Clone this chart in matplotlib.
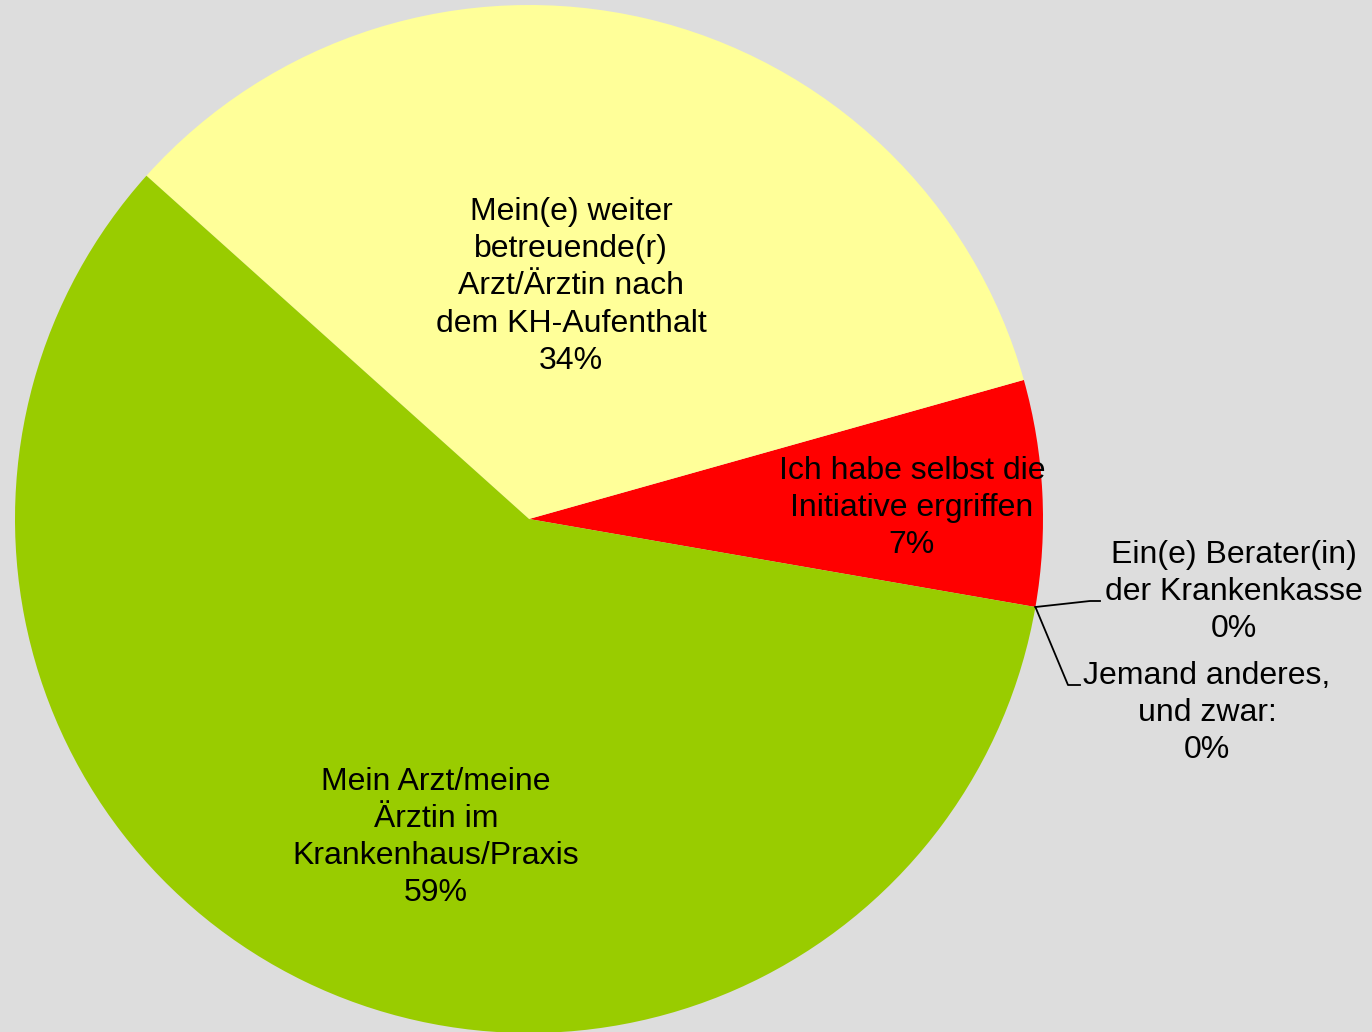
import matplotlib.pyplot as plt
import numpy as np

plt.rcParams['font.family'] = ['Liberation Sans', 'DejaVu Sans']

labels = ['Ich habe selbst die\nInitiative ergriffen',
          'Mein(e) weiter\nbetreuende(r)\nArzt/Ärztin nach\ndem KH-Aufenthalt',
          'Mein Arzt/meine\nÄrztin im\nKrankenhaus/Praxis',
          'Ein(e) Berater(in)\nder Krankenkasse',
          'Jemand anderes,\nund zwar:']
values = [7.1, 34.0, 58.9, 0.0, 0.0]
pct_text = ['7%', '34%', '59%', '0%', '0%']
colors = ['#FF0000', '#FFFF99', '#99CC00', '#3366FF', '#FF9900']

W, H = 1372, 1032
fig = plt.figure(figsize=(W / 100, H / 100), dpi=100)
fig.patch.set_facecolor('#DDDDDD')
ax = fig.add_axes([0, 0, 1, 1])

cx, cy, R = 529, 513, 514
wedges, _ = ax.pie(values, colors=colors, startangle=-9.86, counterclock=True,
                   center=(cx, cy), radius=R, frame=True,
                   wedgeprops=dict(linewidth=0))
ax.set_xlim(0, W)
ax.set_ylim(0, H)
ax.axis('off')

fs = 23
ls = 1.31
# labels inside the three visible slices (radius fraction, angle shift)
place = [(0.745, -1.3), (0.46, 2.8), (0.645, 9.6)]
for i in range(3):
    w = wedges[i]
    mid = np.deg2rad((w.theta1 + w.theta2) / 2 + place[i][1])
    x = cx + place[i][0] * R * np.cos(mid)
    y = cy + place[i][0] * R * np.sin(mid)
    ax.text(x, y, labels[i] + '\n' + pct_text[i], ha='center', va='center',
            fontsize=fs, linespacing=ls, color='black')

# zero slices: labels outside with leader lines
edge = wedges[3].theta1
ex = cx + R * np.cos(np.deg2rad(edge))
ey = cy + R * np.sin(np.deg2rad(edge))
ax.plot([ex, 1090, 1100], [ey, H - 601, H - 601], color='black', lw=1.3)
ax.text(1234, H - 592, labels[3] + '\n' + pct_text[3], ha='center', va='center',
        fontsize=fs, linespacing=ls, color='black')
ax.plot([ex, 1068, 1080], [ey, H - 685, H - 685], color='black', lw=1.3)
ax.text(1207, H - 713, labels[4] + '\n' + pct_text[4], ha='center', va='center',
        fontsize=fs, linespacing=ls, color='black')

fig.savefig('out.png', dpi=100, facecolor=fig.get_facecolor())
